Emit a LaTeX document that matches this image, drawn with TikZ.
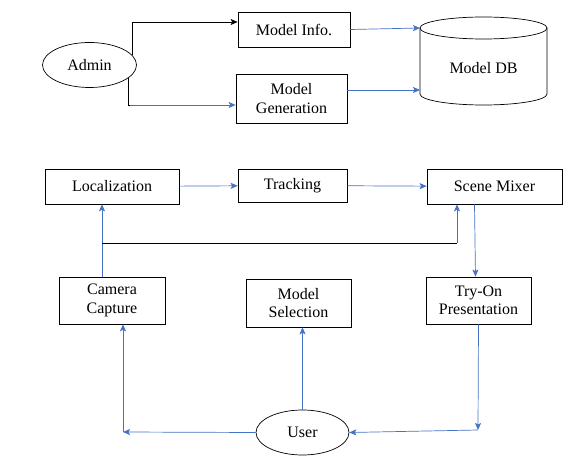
\documentclass[tikz,border=0pt]{standalone}
\usepackage{fontspec}
\setmainfont{Liberation Serif}
\newfontfamily\diagfont{Liberation Serif}
\usetikzlibrary{positioning,shapes.geometric,arrows.meta}
\definecolor{linkblue}{RGB}{68,114,196}
\begin{document}
\begin{tikzpicture}[x=1pt,y=-1pt,>={Stealth[length=7pt,width=6pt,inset=1.5pt]},line width=0.7pt,
	font=\diagfont\fontsize{16}{18.5}\selectfont,
	box/.style={draw,align=center,inner sep=0pt},
	oval/.style={draw,ellipse,inner sep=0pt,minimum width=94pt,minimum height=45pt},
	flow/.style={->,draw=linkblue}]
	\useasboundingbox (0,0) rectangle (579,465);
	% top part
	\node[oval] (admin) at (89.5,65) {Admin};
	\node[box,minimum width=112pt,minimum height=35pt] (info) at (294,29.5) {Model Info.};
	\node[box,minimum width=111pt,minimum height=49pt] (gen) at (291.5,98.5) {Model\\Generation};
	\draw (483.5,28) ellipse [x radius=63.5,y radius=11];
	\draw (420,28) -- (420,94) arc[start angle=180,end angle=0,x radius=63.5,y radius=11] -- (547,28);
	\node (db) at (483.5,68) {Model DB};
	\coordinate (dbin1) at (420,28);
	\coordinate (dbin2) at (420,90);
	\coordinate (gbend) at (130,105);
	\draw[->] (admin.13) |- ([yshift=7.5pt]info.west);
	\draw (admin.-18) |- (gbend);
	\draw[flow] (gbend) -- (gbend -| gen.west);
	\draw[flow] (info.east) -- (dbin1);
	\draw[flow] (gen.east |- dbin2) -- (dbin2);
	% bottom part
	\node[box,minimum width=134pt,minimum height=35pt] (loc) at (112,186.5) {Localization};
	\node[box,minimum width=109pt,minimum height=33pt] (track) at (292.5,185.5) {Tracking};
	\node[box,minimum width=135pt,minimum height=35pt] (mixer) at (494.5,186.5) {Scene Mixer};
	\node[box,minimum width=106pt,minimum height=47pt] (cam) at (112,300.5) {Camera\\Capture};
	\node[box,minimum width=105pt,minimum height=48pt] (sel) at (298.5,303) {Model\\Selection};
	\node[box,minimum width=105pt,minimum height=47pt] (tryon) at (478.5,300.5) {Try-On\\Presentation};
	\node[oval,minimum width=93pt] (user) at (302.5,432.5) {User};
	\coordinate (jleft) at (102,243);
	\coordinate (jright) at (457,243);
	\coordinate (uleft) at (123,432);
	\coordinate (uright) at (478,430);
	\draw[flow] (loc) -- (track);
	\draw[flow] (track) -- (mixer);
	\draw[flow] ([xshift=-10pt]cam.north) -- ([xshift=-10pt]loc.south);
	\draw (jleft) -- (jright);
	\draw[flow] (jright) -- (jright |- mixer.south);
	\draw[flow] ([xshift=-20pt]mixer.south) -- ([xshift=-3pt]tryon.north);
	\draw[flow] (user.north) -- (user.north |- sel.south);
	\draw[flow] (user.west) -- (uleft);
	\draw[flow] (uleft) -- (uleft |- cam.south);
	\draw[flow] (tryon.south) -- (uright);
	\draw[flow] (uright) -- (user.east);
\end{tikzpicture}
\end{document}
